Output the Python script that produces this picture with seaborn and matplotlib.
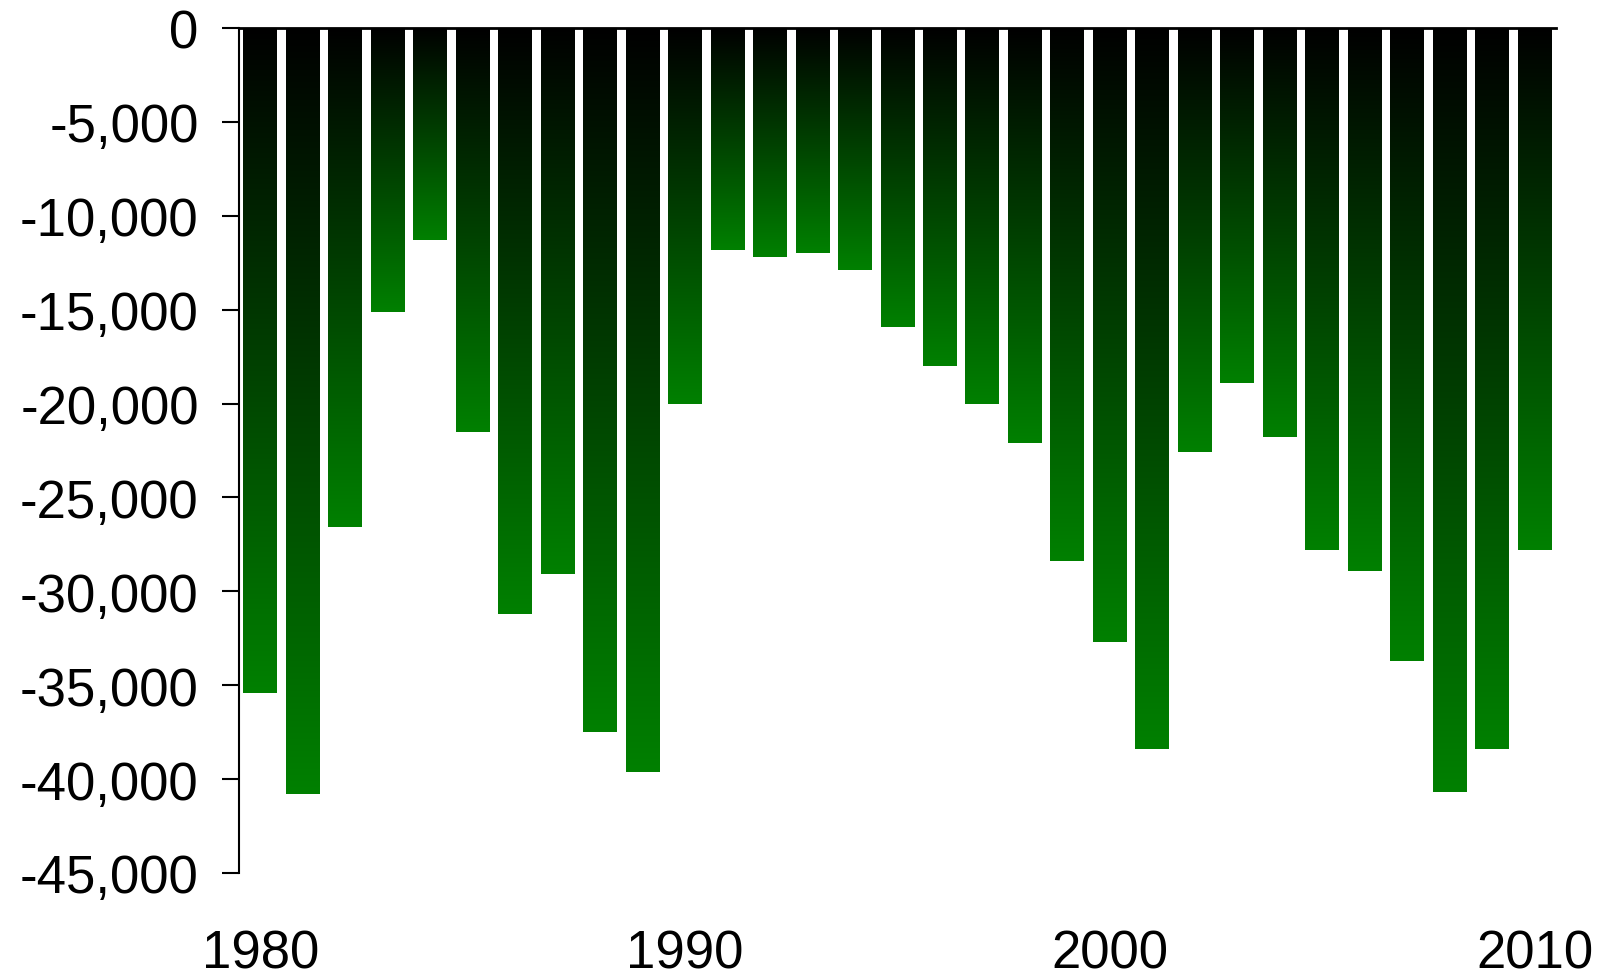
import numpy as np
import pandas as pd
import seaborn as sns
import matplotlib.pyplot as plt
from matplotlib.colors import LinearSegmentedColormap
from matplotlib.ticker import FuncFormatter

years = list(range(1980, 2011))
values = [-35400, -40800, -26600, -15100, -11300, -21500, -31200, -29100, -37500, -39600,
          -20000, -11800, -12200, -12000, -12900, -15900, -18000, -20000, -22100, -28400,
          -32700, -38400, -22600, -18900, -21800, -27800, -28900, -33700, -40700, -38400,
          -27800]
x_ticks = [1980, 1990, 2000, 2010]
y_ticks = list(range(0, -45001, -5000))

df = pd.DataFrame({"year": years, "value": values})

sns.set_style("white")
plt.rcParams['font.family'] = ['Liberation Sans', 'DejaVu Sans']
plt.rcParams['text.color'] = 'black'
plt.rcParams['xtick.color'] = 'black'
plt.rcParams['ytick.color'] = 'black'
plt.rcParams['xtick.labelcolor'] = 'black'
plt.rcParams['ytick.labelcolor'] = 'black'

fig = plt.figure(figsize=(16.08, 9.79), dpi=100)
ax = fig.add_axes([239 / 1608, (979 - 874) / 979, (1556 - 239) / 1608, (874 - 29) / 979])

sns.barplot(data=df, x="year", y="value", native_scale=True, width=0.8,
            color="#008000", ax=ax, errorbar=None)

# gradient fill: black at the zero line, green at the bar end
cmap = LinearSegmentedColormap.from_list("blk_grn", ["#000000", "#008000"])
grad = np.linspace(0, 1, 256).reshape(-1, 1)
for p in ax.patches:
    x0 = p.get_x()
    w = p.get_width()
    y0 = p.get_y()
    h = p.get_height()
    lo, hi = min(y0, y0 + h), max(y0, y0 + h)
    im = ax.imshow(grad, extent=(x0, x0 + w, lo, hi), origin="upper",
                   aspect="auto", cmap=cmap, zorder=2)
    im.set_clip_path(p)
    p.set_facecolor("none")
    p.set_edgecolor("none")

ax.set_xlim(1979.5, 2010.5)
ax.set_ylim(-45000, 0)
ax.set_xticks(x_ticks)
ax.set_yticks(y_ticks)
ax.yaxis.set_major_formatter(FuncFormatter(lambda v, pos: f"{int(v):,}"))
ax.set_xlabel("")
ax.set_ylabel("")

for s in ["right", "bottom"]:
    ax.spines[s].set_visible(False)
ax.spines["left"].set_linewidth(1.5)
ax.spines["left"].set_color("black")
ax.spines["top"].set_linewidth(2)
ax.spines["top"].set_color("black")
ax.spines["left"].set_zorder(5)
ax.spines["top"].set_zorder(5)

ax.tick_params(axis="y", direction="out", length=12, width=1.5, colors="black",
               labelsize=38, pad=17, left=True)
ax.tick_params(axis="x", length=0, labelsize=38, pad=40, colors="black")

fig.savefig("out.png", dpi=100, facecolor="white")
